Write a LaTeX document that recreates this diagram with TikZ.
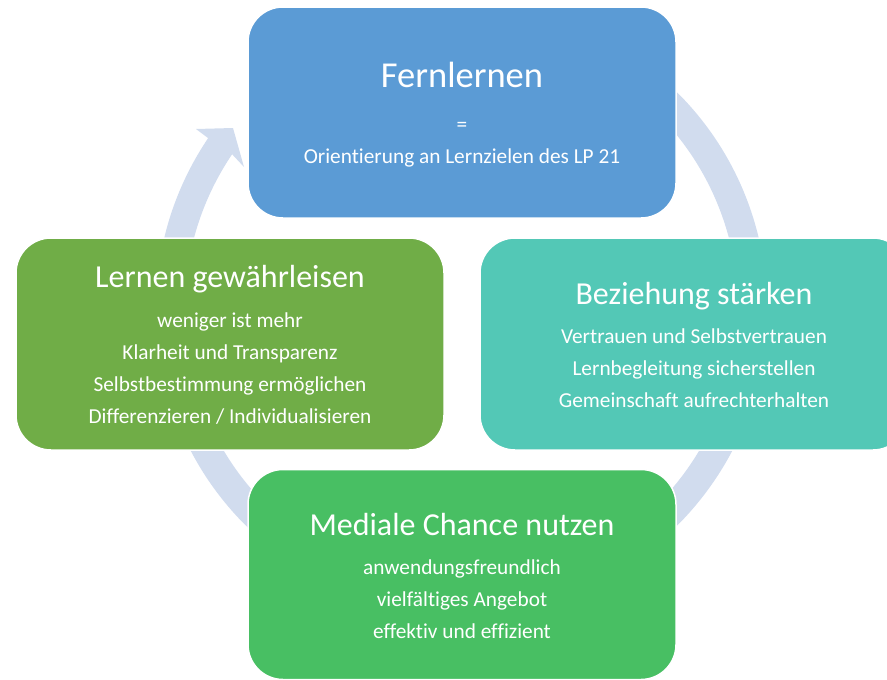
\documentclass[tikz,border=0pt]{standalone}
\usepackage{fontspec}
\setmainfont{Carlito}[Ligatures=NoCommon]
\definecolor{cBlue}{HTML}{5B9BD5}
\definecolor{cGreen}{HTML}{70AD47}
\definecolor{cTeal}{HTML}{53C8B6}
\definecolor{cLime}{HTML}{48BF63}
\definecolor{cRing}{HTML}{D1DCEE}
\begin{document}
\begin{tikzpicture}[x=1pt,y=-1pt,
  box/.style={draw=white, line width=1.5pt, rounded corners=35pt, minimum width=428pt, inner sep=0pt},
  ttl/.style={text=white, anchor=base, font=\fontsize{32}{38}\selectfont, inner sep=0pt},
  bigttl/.style={text=white, anchor=base, font=\fontsize{36.5}{42}\selectfont, inner sep=0pt},
  txt/.style={text=white, anchor=base, font=\fontsize{21.3}{25}\selectfont, inner sep=0pt}]
\useasboundingbox (0,0) rectangle (887,680);
\clip (0,0) rectangle (887,680);
% ring arrow
\begin{scope}[shift={(461.5,309)}]
  \fill[cRing] (-52:305.6) arc[start angle=-52, end angle=214, radius=305.6]
    -- (-265.5,-180) -- (-228.5,-181) -- (-217.5,-142)
    -- (214:276.7) arc[start angle=214, end angle=-52, radius=276.7] -- cycle;
\end{scope}
% boxes
\node[box, fill=cBlue, minimum height=211pt] (fern) at (462,112.5) {};
\node[box, fill=cGreen, minimum height=212pt] (lern) at (230,344) {};
\node[box, fill=cTeal, minimum height=212pt] (bez) at (694,344) {};
\node[box, fill=cLime, minimum height=210pt] (med) at (462,574.5) {};
% top texts
\node[bigttl] (t1) at (462,87) {Fernlernen};
\node[txt] (t1a) at (462,131) {=};
\node[txt] (t1b) at (462,163) {Orientierung an Lernzielen des LP 21};
% left texts
\node[ttl] (t2) at (230,287) {Lernen gewährleisen};
\node[txt] (t2a) at (230,327) {weniger ist mehr};
\node[txt] (t2b) at (230,359) {Klarheit und Transparenz};
\node[txt] (t2c) at (230,391) {Selbstbestimmung ermöglichen};
\node[txt] (t2d) at (230,423) {Differenzieren / Individualisieren};
% right texts
\node[ttl] (t3) at (694,304) {Beziehung stärken};
\node[txt] (t3a) at (694,343) {Vertrauen und Selbstvertrauen};
\node[txt] (t3b) at (694,375) {Lernbegleitung sicherstellen};
\node[txt] (t3c) at (694,407) {Gemeinschaft aufrechterhalten};
% bottom texts
\node[ttl] (t4) at (462,535) {Mediale Chance nutzen};
\node[txt] (t4a) at (462,574) {anwendungsfreundlich};
\node[txt] (t4b) at (462,606) {vielfältiges Angebot};
\node[txt] (t4c) at (462,638) {effektiv und effizient};
\end{tikzpicture}
\end{document}
